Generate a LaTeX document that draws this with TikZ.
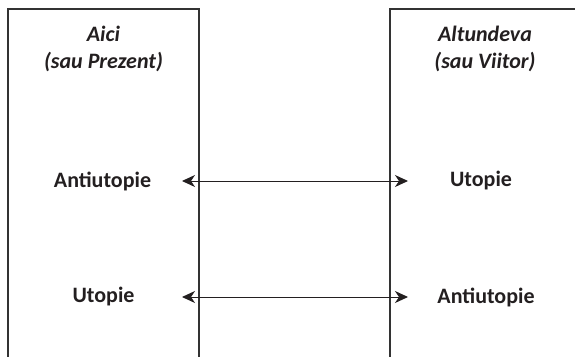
\documentclass[tikz,border=0pt]{standalone}
\usepackage{fontspec}
\setmainfont{Carlito}
\usetikzlibrary{arrows.meta}
\definecolor{ink}{HTML}{231F20}
\definecolor{frame}{HTML}{333333}
\tikzset{
  lbl/.style={font=\fontsize{22}{26}\selectfont\bfseries, text=ink, inner sep=0pt, anchor=center},
  hdr/.style={font=\fontsize{22}{27}\selectfont\bfseries\itshape, text=ink, inner sep=0pt, align=center, anchor=center},
  boxline/.style={draw=frame, line width=1.3pt},
  link/.style={draw=ink, line width=1pt, {Stealth[length=13pt,width=12pt,inset=4pt]}-{Stealth[length=13pt,width=12pt,inset=4pt]}}
}
\begin{document}
\begin{tikzpicture}[x=1pt,y=-1pt]
\useasboundingbox (0,0) rectangle (575,356);
% frames (open at the bottom / right)
\draw[boxline] (8,360) -- (8,9) -- (199,9) -- (199,360);
\draw[boxline] (390,360) -- (390,9) -- (580,9);
% headers
\node[hdr] (here) at (103.5,48.5) {Aici\\(sau Prezent)};
\node[hdr] (there) at (485,48.5) {Altundeva\\(sau Viitor)};
% labels
\node[lbl] (a1) at (102.5,181) {Antiutopie};
\node[lbl] (u1) at (481,181) {Utopie};
\node[lbl] (u2) at (103.5,297) {Utopie};
\node[lbl] (a2) at (486,297) {Antiutopie};
% arrow ends
\coordinate (l1) at (182,181);
\coordinate (r1) at (408,181);
\coordinate (l2) at (182,297);
\coordinate (r2) at (408,297);
\draw[link] (l1) -- (r1);
\draw[link] (l2) -- (r2);
\end{tikzpicture}
\end{document}
